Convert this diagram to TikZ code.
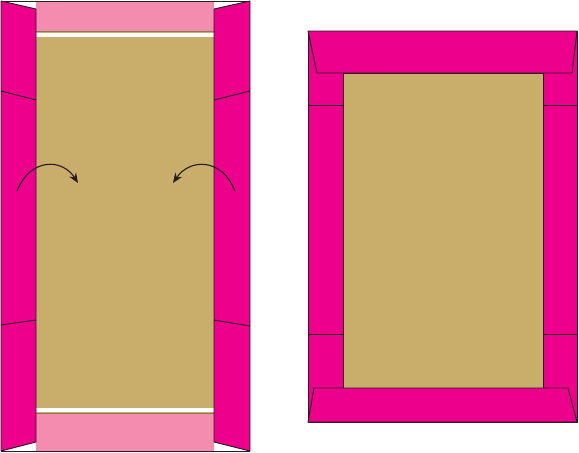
\documentclass[tikz,border=0pt]{standalone}
\usetikzlibrary{arrows.meta}
\definecolor{flapmagenta}{HTML}{EC008C}
\definecolor{bandpink}{HTML}{F48CB0}
\definecolor{boardtan}{HTML}{C9AD6A}
\definecolor{edgegray}{HTML}{231F20}
\tikzset{
  fold/.style={draw=edgegray, line width=0.9pt, line join=round},
  crease/.style={draw=edgegray, line width=0.9pt},
  turn/.style={-{Stealth[length=10pt,width=8pt]}, line width=1.1pt, color=edgegray}
}
\begin{document}
\begin{tikzpicture}[x=1pt,y=-1pt]
\useasboundingbox (0,0) rectangle (579,453);

% left: open case, side flaps still out
\fill [boardtan] (36,1) rectangle (214,451);
\fill [bandpink] (36,1) rectangle (214,31);
\fill [bandpink] (36,414) rectangle (214,451);
\fill [white] (36,33) rectangle (214,37);
\fill [white] (36,408) rectangle (214,412);
\draw [color = boardtan!70!black, line width=0.6pt] (36,31.5) -- (214,31.5);
\draw [color = boardtan!70!black, line width=0.6pt] (36,413.5) -- (214,413.5);
\draw [fold] (1,1) -- (250,1);
\draw [fold] (1,451) -- (250,451);
\filldraw [fold, fill=flapmagenta] (1,1) -- (36,9) -- (36,442) -- (1,451) -- cycle;
\filldraw [fold, fill=flapmagenta] (250,1) -- (214,9) -- (214,442) -- (250,451) -- cycle;
\draw [crease] (1,91) -- (36,100);
\draw [crease] (1,325) -- (36,320);
\draw [crease] (250,91) -- (214,100);
\draw [crease] (250,326) -- (214,320);
% fold-in arrows
\draw [turn] (17,191) .. controls (30,158) and (62,158) .. (78,183);
\draw [turn] (235,191) .. controls (222,158) and (190,158) .. (173,183);

% right: flaps folded in
\filldraw [fold, fill=flapmagenta] (308,31) rectangle (577,422);
\filldraw [fold, fill=boardtan] (343,73) rectangle (543,388);
\draw [crease] (308,105.5) -- (343,105.5);
\draw [crease] (543,105.5) -- (577,105.5);
\draw [crease] (308,334) -- (343,334);
\draw [crease] (543,334) -- (577,334);
\filldraw [fold, fill=flapmagenta] (308,31) -- (577,31) -- (572,73) -- (317,73) -- cycle;
\filldraw [fold, fill=flapmagenta] (314,388) -- (568,388) -- (577,422) -- (308,422) -- cycle;
\end{tikzpicture}
\end{document}
